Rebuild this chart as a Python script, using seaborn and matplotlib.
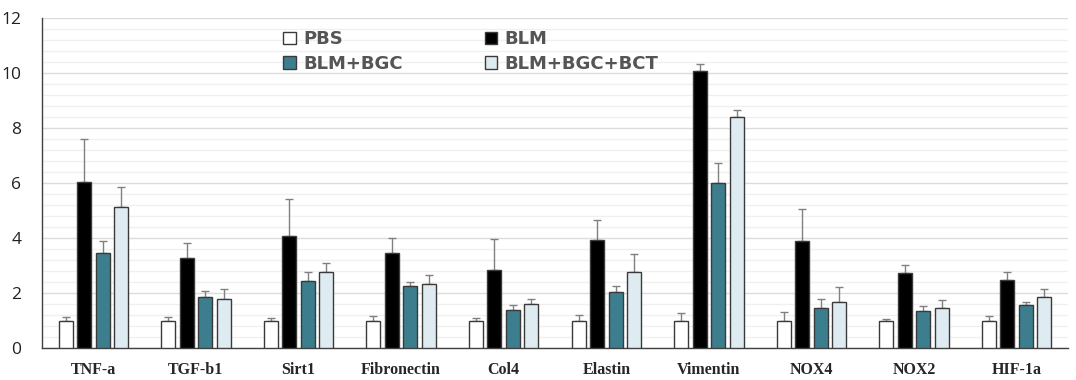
import numpy as np
import pandas as pd
import matplotlib
matplotlib.use("Agg")
import matplotlib.pyplot as plt
from matplotlib.ticker import MultipleLocator
import seaborn as sns

# 유전자 / 그룹
genes = ['TNF-a', 'TGF-b1', 'Sirt1', 'Fibronectin', 'Col4', 'Elastin',
         'Vimentin', 'NOX4', 'NOX2', 'HIF-1a']
groups = ['PBS', 'BLM', 'BLM+BGC', 'BLM+BGC+BCT']

pbs = [1.0, 1.0, 1.0, 1.0, 1.0, 1.0, 1.0, 1.0, 1.0, 1.0]
blm = [6.02, 3.28, 4.08, 3.44, 2.83, 3.94, 10.08, 3.89, 2.73, 2.47]
blm_bgc = [3.44, 1.86, 2.43, 2.26, 1.38, 2.04, 5.99, 1.45, 1.36, 1.57]
blm_bgc_bct = [5.13, 1.80, 2.77, 2.32, 1.59, 2.77, 8.39, 1.68, 1.45, 1.86]

pbs_err = [0.13, 0.12, 0.09, 0.17, 0.09, 0.19, 0.28, 0.31, 0.07, 0.17]
blm_err = [1.57, 0.55, 1.34, 0.56, 1.12, 0.72, 0.23, 1.15, 0.28, 0.29]
blm_bgc_err = [0.45, 0.20, 0.33, 0.14, 0.19, 0.22, 0.73, 0.35, 0.18, 0.12]
blm_bgc_bct_err = [0.71, 0.35, 0.33, 0.34, 0.21, 0.66, 0.25, 0.53, 0.31, 0.27]

colors = ['#ffffff', '#000000', '#2e869c', '#dbeef4']

vals = [pbs, blm, blm_bgc, blm_bgc_bct]
errs = [pbs_err, blm_err, blm_bgc_err, blm_bgc_bct_err]
rows = []
for g, v, e in zip(groups, vals, errs):
    for gene, vv, ee in zip(genes, v, e):
        rows.append({'gene': gene, 'group': g, 'value': vv, 'err': ee})
df = pd.DataFrame(rows)

sns.set_style('white')

fig = plt.figure(figsize=(10.76, 3.8), dpi=100)
ax = fig.add_axes([42 / 1076, 32 / 380, 1026 / 1076, 330 / 380])

sns.barplot(data=df, x='gene', y='value', hue='group', order=genes,
            hue_order=groups, palette=colors, width=0.72, gap=0.24,
            errorbar=None, edgecolor='#3a3a3a', linewidth=1.0, ax=ax,
            zorder=3)

# 에러바 (위쪽만)
for gi, g in enumerate(groups):
    cont = ax.containers[gi]
    xs = [p.get_x() + p.get_width() / 2 for p in cont.patches]
    ax.errorbar(xs, vals[gi], yerr=[np.zeros(len(genes)), errs[gi]],
                fmt='none', ecolor='#808080', elinewidth=1.0, capsize=3,
                capthick=1.0, zorder=2)

ax.set_xlim(-0.5, 9.5)
ax.set_ylim(0, 12)
ax.yaxis.set_major_locator(MultipleLocator(2))
ax.yaxis.set_minor_locator(MultipleLocator(0.4))
ax.grid(which='major', axis='y', color='#dcdcdc', linewidth=1.0, zorder=0)
ax.grid(which='minor', axis='y', color='#f0f0f0', linewidth=1.0, zorder=0)
ax.set_axisbelow(True)

for s in ['top', 'right']:
    ax.spines[s].set_visible(False)
for s in ['left', 'bottom']:
    ax.spines[s].set_color('#404040')
    ax.spines[s].set_linewidth(1.0)

ax.tick_params(axis='y', which='major', direction='out', length=5,
               color='#404040', labelsize=12.5, pad=10, labelcolor='#222222')
ax.tick_params(axis='y', which='minor', direction='out', length=3,
               color='#404040')
ax.tick_params(axis='x', direction='out', length=4, color='#404040', pad=6)
for lab in ax.get_yticklabels():
    lab.set_fontfamily('Open Sans')
for lab in ax.get_xticklabels():
    lab.set_fontfamily('Liberation Serif')
    lab.set_fontweight('bold')
    lab.set_fontsize(11.5)
ax.set_xlabel('')
ax.set_ylabel('')

# 범례 (2열)
handles, labels = ax.get_legend_handles_labels()
order = [0, 2, 1, 3]
ax.legend([handles[i] for i in order], [labels[i] for i in order],
          ncol=2, frameon=False, loc='upper left',
          bbox_to_anchor=(0.228, 0.985), borderaxespad=0,
          handlelength=0.7, handleheight=0.7, handletextpad=0.4,
          columnspacing=4.55, labelspacing=0.38,
          prop={'family': 'DejaVu Sans', 'weight': 'bold', 'size': 13},
          labelcolor='#555555')

fig.savefig('out.png', dpi=100)
